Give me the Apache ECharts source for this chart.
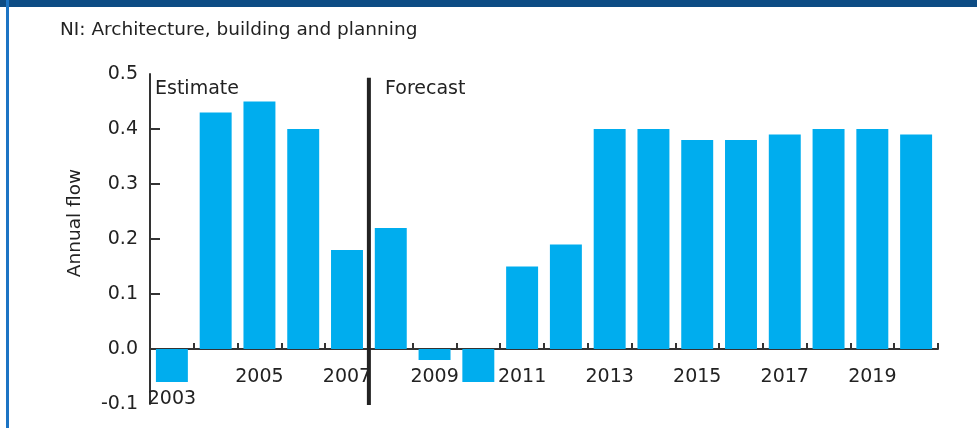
<!DOCTYPE html>
<html>
<head>
<meta charset="utf-8">
<script src="https://cdn.jsdelivr.net/npm/echarts@6/dist/echarts.min.js"></script>
<style>
html,body{margin:0;padding:0;background:#fff;}
#chart{width:977px;height:428px;}
</style>
</head>
<body>
<div id="chart"></div>
<script>
const title = 'NI: Architecture, building and planning';
const years = ['2003','2004','2005','2006','2007','2008','2009','2010','2011','2012','2013','2014','2015','2016','2017','2018','2019','2020'];
const annualFlow = [-0.06,0.43,0.45,0.40,0.18,0.22,-0.02,-0.06,0.15,0.19,0.40,0.40,0.38,0.38,0.39,0.40,0.40,0.39];
const yTicks = [-0.1,0.0,0.1,0.2,0.3,0.4,0.5];
const yTickMarks = [0.1,0.2,0.3,0.4];
const dividerLine = [[5,-0.102],[5,0.493]]; // boundary between 2007 and 2008
const periodLabels = ['Estimate','Forecast'];
const yAxisName = 'Annual flow';

const FONT = 'DejaVu Sans';
const chart = echarts.init(document.getElementById('chart'), null, {renderer:'canvas'});
const option = {
  animation:false,
  backgroundColor:'#fff',
  textStyle:{fontFamily:FONT},
  graphic:[
    {type:'rect', shape:{x:0,y:0,width:977,height:7}, style:{fill:'#0d4c84'}, z:10},
    {type:'rect', shape:{x:6,y:0,width:3,height:428}, style:{fill:'#1c74c4'}, z:10},
    {type:'text', left:60, top:21, style:{text:title, fontFamily:FONT, fontSize:18.5, fill:'#222'}},
    {type:'text', left:155, top:80, style:{text:periodLabels[0], fontFamily:FONT, fontSize:19, fill:'#222'}},
    {type:'text', left:385, top:80, style:{text:periodLabels[1], fontFamily:FONT, fontSize:19, fill:'#222'}}
  ],
  grid:{left:150, right:39, top:74, bottom:24, containLabel:false, outerBoundsMode:'none'},
  xAxis:[{
    type:'category', data:years, boundaryGap:true, position:'bottom',
    axisLine:{onZero:true, lineStyle:{color:'#333', width:2}},
    axisTick:{show:true, inside:true, interval:0, length:6, lineStyle:{color:'#333', width:2}},
    axisLabel:{
      interval:1, margin:-36, fontFamily:FONT, fontSize:19, color:'#222',
      formatter:function(v,i){ return i===0 ? '{low|'+v+'}' : v; },
      rich:{low:{fontFamily:FONT, fontSize:19, color:'#222', padding:[22,0,0,0]}}
    }
  },{
    type:'value', min:0, max:years.length, show:false, position:'top',
    axisLine:{onZero:false}
  }],
  yAxis:{
    type:'value', min:yTicks[0], max:yTicks[yTicks.length-1], interval:0.1,
    name:yAxisName, nameLocation:'middle', nameGap:65, nameRotate:90,
    nameTextStyle:{fontFamily:FONT, fontSize:18.5, color:'#222', padding:[0,0,0,32]},
    axisLine:{show:true, onZero:false, lineStyle:{color:'#333', width:2}},
    axisTick:{show:true, inside:true, length:10, customValues:yTickMarks, lineStyle:{color:'#333', width:2}},
    axisLabel:{margin:12, fontFamily:FONT, fontSize:19, color:'#222', formatter:function(v){return v.toFixed(1);}},
    splitLine:{show:false}
  },
  series:[{
    type:'bar', data:annualFlow, barCategoryGap:'27%',
    itemStyle:{color:'#00adee'}, xAxisIndex:0
  },{
    type:'line', xAxisIndex:1, data:dividerLine, silent:true,
    symbol:'none', lineStyle:{color:'#222', width:4}, z:5
  }]
};
chart.setOption(option);
</script>
</body>
</html>
